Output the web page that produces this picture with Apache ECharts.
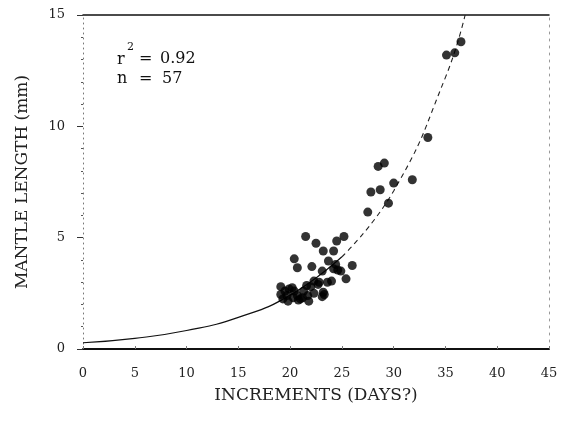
<!DOCTYPE html>
<html>
<head>
<meta charset="utf-8">
<script src="https://cdn.jsdelivr.net/npm/echarts@6/dist/echarts.min.js"></script>
<style>
html,body{margin:0;padding:0;background:#fff;}
#c{width:565px;height:421px;}
</style>
</head>
<body>
<div id="c"></div>
<script>
// Scatter points: increments (days) and mantle length (mm)
var pointX = [
  36.5, 35.9, 35.1, 33.3, 29.1, 28.5, 31.8, 30.0, 28.7, 27.8, 29.5, 27.5,
  21.5, 25.2, 22.5, 24.5, 23.2, 24.2, 20.4, 23.7, 24.4, 20.7, 22.1, 23.1,
  24.9, 26.0, 25.4, 24.2, 24.6, 22.3, 22.8, 23.6, 23.2, 22.0, 19.1, 19.9,
  20.4, 19.1, 19.3, 19.8, 20.3, 20.7, 21.0, 21.7, 21.3, 21.8, 22.3, 23.1,
  19.5, 20.2, 21.2, 23.3, 22.7, 19.7, 24.0, 21.6, 20.8
];
var pointY = [
  13.8, 13.3, 13.2, 9.5, 8.35, 8.2, 7.6, 7.45, 7.15, 7.05, 6.55, 6.15,
  5.05, 5.05, 4.75, 4.85, 4.4, 4.4, 4.05, 3.95, 3.8, 3.65, 3.7, 3.5,
  3.5, 3.75, 3.15, 3.6, 3.55, 3.05, 3.0, 3.0, 2.55, 2.8, 2.8, 2.7,
  2.6, 2.45, 2.25, 2.15, 2.3, 2.4, 2.25, 2.4, 2.6, 2.15, 2.5, 2.35,
  2.6, 2.75, 2.3, 2.45, 2.9, 2.4, 3.05, 2.85, 2.2
];
// Fitted curve
var curveX = [0, 5, 10, 15, 20, 25, 30, 35, 36.9];
var curveY = [0.28, 0.48, 0.83, 1.42, 2.42, 4.14, 7.1, 12.2, 15];
// Axis ticks
var xTicks = [0, 5, 10, 15, 20, 25, 30, 35, 40, 45];
var yTicks = [0, 5, 10, 15];

var pts = pointX.map(function (x, i) { return [x, pointY[i]]; });
var curve = curveX.map(function (x, i) { return [x, curveY[i]]; });
var lowerCurve = curve.slice(0, 6);
var upperCurve = curve.slice(5);

var FONT = 'DejaVu Serif';
var chart = echarts.init(document.getElementById('c'), null, {renderer: 'canvas'});
chart.setOption({
  animation: false,
  backgroundColor: '#ffffff',
  grid: {left: 83, right: 16, top: 15, bottom: 72, containLabel: false},
  xAxis: [{
    type: 'value', position: 'bottom',
    min: xTicks[0], max: xTicks[xTicks.length - 1], interval: 5,
    axisLine: {show: true, onZero: false, lineStyle: {color: '#111', width: 2}},
    axisTick: {show: true, inside: true, length: 3, lineStyle: {color: '#777'}},
    axisLabel: {margin: 18, color: '#222', fontFamily: FONT, fontSize: 13},
    splitLine: {show: false},
    name: 'INCREMENTS (DAYS?)', nameLocation: 'middle', nameGap: 38,
    nameTextStyle: {color: '#222', fontFamily: FONT, fontSize: 17}
  }, {
    type: 'value', position: 'top',
    min: 0, max: 45, interval: 5,
    axisLine: {show: true, onZero: false, lineStyle: {color: '#111', width: 1.5}},
    axisTick: {show: false}, axisLabel: {show: false}, splitLine: {show: false}
  }],
  yAxis: [{
    type: 'value', position: 'left',
    min: yTicks[0], max: yTicks[yTicks.length - 1], interval: 5,
    axisLine: {show: true, onZero: false, lineStyle: {color: '#777', width: 1, type: [1, 4]}},
    axisTick: {show: true, length: 6, lineStyle: {color: '#333'}},
    minorTick: {show: true, splitNumber: 5, length: 2, lineStyle: {color: '#555'}},
    axisLabel: {margin: 18, color: '#222', fontFamily: FONT, fontSize: 13},
    splitLine: {show: false},
    name: 'MANTLE LENGTH (mm)', nameLocation: 'middle', nameGap: 52,
    nameTextStyle: {color: '#222', fontFamily: FONT, fontSize: 17}
  }, {
    type: 'value', position: 'right',
    min: 0, max: 15, interval: 5,
    axisLine: {show: true, onZero: false, lineStyle: {color: '#999', width: 1, type: [2, 5]}},
    axisTick: {show: false}, axisLabel: {show: false}, splitLine: {show: false}
  }],
  series: [{
    type: 'line', data: lowerCurve, smooth: true, showSymbol: false, symbol: 'none',
    lineStyle: {color: '#111', width: 1.2}, z: 2
  }, {
    type: 'line', data: upperCurve, smooth: true, showSymbol: false, symbol: 'none',
    lineStyle: {color: '#222', width: 1.1, type: [5, 4]}, z: 2
  }, {
    type: 'scatter', data: pts, symbol: 'circle', symbolSize: 9,
    itemStyle: {color: '#000'}, z: 3
  }],
  graphic: [
    {type: 'text', left: 117, top: 52, style: {text: 'r', font: '16px "DejaVu Serif"', fill: '#111'}},
    {type: 'text', left: 127, top: 42, style: {text: '2', font: '11px "DejaVu Serif"', fill: '#111'}},
    {type: 'text', left: 139, top: 51, style: {text: '=', font: '16px "DejaVu Serif"', fill: '#111'}},
    {type: 'text', left: 160, top: 51, style: {text: '0.92', font: '16px "DejaVu Serif"', fill: '#111'}},
    {type: 'text', left: 117, top: 71, style: {text: 'n', font: '16px "DejaVu Serif"', fill: '#111'}},
    {type: 'text', left: 139, top: 71, style: {text: '=', font: '16px "DejaVu Serif"', fill: '#111'}},
    {type: 'text', left: 162, top: 71, style: {text: '57', font: '16px "DejaVu Serif"', fill: '#111'}}
  ]
});
</script>
</body>
</html>
